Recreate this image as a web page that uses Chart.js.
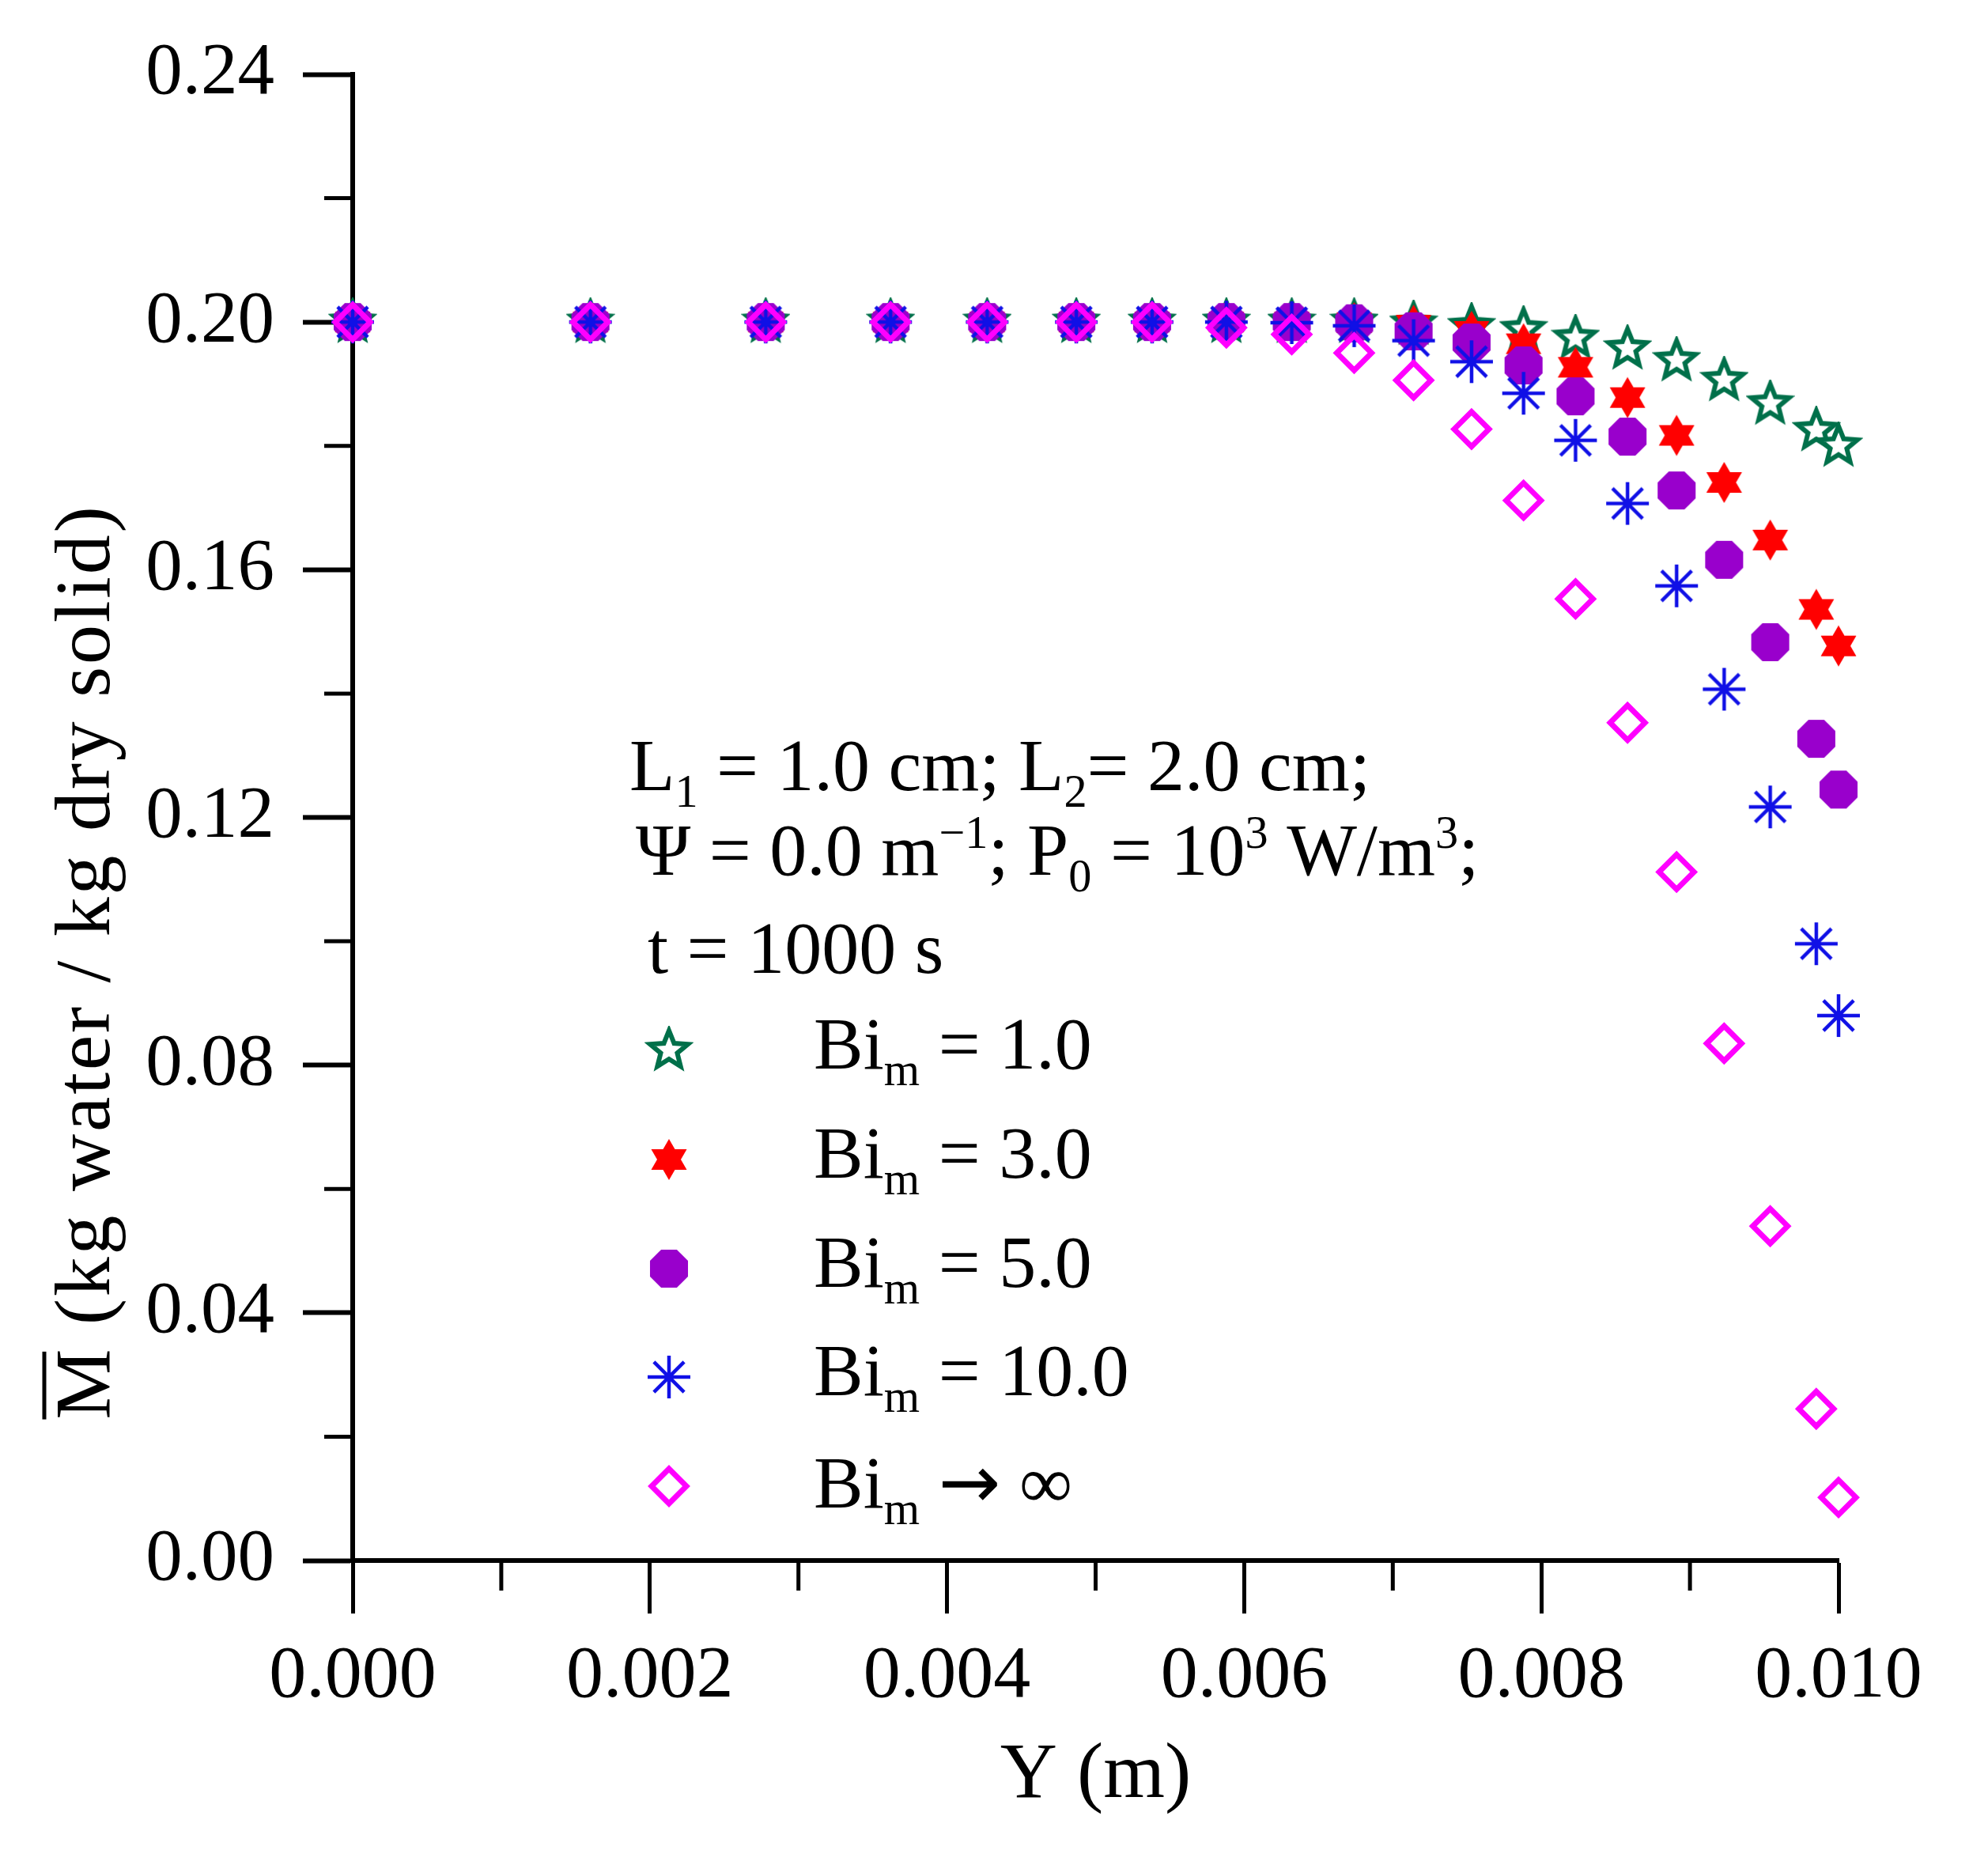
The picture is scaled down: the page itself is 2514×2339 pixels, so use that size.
<!DOCTYPE html>
<html>
<head>
<meta charset="utf-8">
<script src="https://cdn.jsdelivr.net/npm/chart.js@4.4.1/dist/chart.umd.min.js"></script>
<style>
  html, body { margin: 0; padding: 0; background: #fff; }
  #wrap { width: 2514px; height: 2339px; }
</style>
</head>
<body>
<div id="wrap"><canvas id="chart" width="2514" height="2339"></canvas></div>
<script>
// --- data ---
const positions = [0, 0.0016, 0.00278, 0.00362, 0.00427, 0.00487, 0.00538, 0.00588, 0.00632, 0.00674,
                   0.00714, 0.00753, 0.00788, 0.00823, 0.00858, 0.00891, 0.00923, 0.00954, 0.00985, 0.0100];

const bi1   = [0.2, 0.2, 0.2, 0.2, 0.2, 0.2, 0.2, 0.2, 0.2, 0.2,
               0.1997, 0.1993, 0.1988, 0.1974, 0.1957, 0.1938, 0.1906, 0.1868, 0.1825, 0.18];
const bi3   = [0.2, 0.2, 0.2, 0.2, 0.2, 0.2, 0.2, 0.2, 0.2, 0.1999,
               0.1995, 0.1985, 0.1965, 0.1927, 0.1878, 0.1817, 0.1741, 0.1648, 0.1536, 0.1477];
const bi5   = [0.2, 0.2, 0.2, 0.2, 0.2, 0.2, 0.2, 0.2, 0.2, 0.1998,
               0.1985, 0.1967, 0.193, 0.188, 0.1815, 0.1728, 0.1616, 0.1483, 0.1327, 0.1245];
const bi10  = [0.2, 0.2, 0.2, 0.2, 0.2, 0.2, 0.2, 0.2, 0.1999, 0.1994,
               0.197, 0.1936, 0.1885, 0.1809, 0.1707, 0.1574, 0.1407, 0.1217, 0.0996, 0.088];
const biInf = [0.2, 0.2, 0.2, 0.2, 0.2, 0.2, 0.2, 0.1991, 0.198, 0.195,
               0.1906, 0.1827, 0.1712, 0.1553, 0.1353, 0.1112, 0.0835, 0.054, 0.0245, 0.0102];

const xTickValues = [0, 0.002, 0.004, 0.006, 0.008, 0.010];
const xTickLabels = ['0.000', '0.002', '0.004', '0.006', '0.008', '0.010'];
const xMinorValues = [0.001, 0.003, 0.005, 0.007, 0.009];
const yTickValues = [0, 0.04, 0.08, 0.12, 0.16, 0.20, 0.24];
const yTickLabels = ['0.00', '0.04', '0.08', '0.12', '0.16', '0.20', '0.24'];
const yMinorValues = [0.02, 0.06, 0.10, 0.14, 0.18, 0.22];

const legendTexts = [' = 1.0', ' = 3.0', ' = 5.0', ' = 10.0', null];

const FONT = '"Liberation Serif", "Times New Roman", serif';
const GREEN = '#00704a', RED = '#ff0000', PURPLE = '#9900cc', BLUE = '#1010e6', MAGENTA = '#ff00ff';

// --- marker images ---
function makeMarker(size, draw) {
  const c = document.createElement('canvas');
  c.width = size; c.height = size;
  const g = c.getContext('2d');
  g.translate(size / 2, size / 2);
  draw(g);
  return c;
}

const starMarker = makeMarker(62, g => {
  g.beginPath();
  for (let k = 0; k < 10; k++) {
    const r = k % 2 ? 11 : 25;
    const a = -Math.PI / 2 + k * Math.PI / 5;
    g.lineTo(r * Math.cos(a), r * Math.sin(a));
  }
  g.closePath();
  g.fillStyle = '#fff'; g.fill();
  g.lineWidth = 6; g.strokeStyle = GREEN; g.stroke();
});

const hexMarker = makeMarker(58, g => {
  g.fillStyle = RED;
  for (const off of [-Math.PI / 2, Math.PI / 2]) {
    g.beginPath();
    for (let k = 0; k < 3; k++) {
      const a = off + k * 2 * Math.PI / 3;
      g.lineTo(26 * Math.cos(a), 26 * Math.sin(a));
    }
    g.closePath();
    g.fill();
  }
});

const octMarker = makeMarker(56, g => {
  g.beginPath();
  for (let k = 0; k < 8; k++) {
    const a = Math.PI / 8 + k * Math.PI / 4;
    g.lineTo(26 * Math.cos(a), 26 * Math.sin(a));
  }
  g.closePath();
  g.fillStyle = PURPLE; g.fill();
});

const asteriskMarker = makeMarker(62, g => {
  g.strokeStyle = BLUE; g.lineWidth = 4.5;
  for (let k = 0; k < 4; k++) {
    const a = k * Math.PI / 4;
    g.beginPath();
    g.moveTo(-27 * Math.cos(a), -27 * Math.sin(a));
    g.lineTo(27 * Math.cos(a), 27 * Math.sin(a));
    g.stroke();
  }
  g.beginPath(); g.arc(0, 0, 6, 0, Math.PI * 2); g.fillStyle = BLUE; g.fill();
});

function pts(arr) { return positions.map((x, i) => ({ x: x, y: arr[i] })); }

const series = [
  { data: bi1, style: starMarker, order: 4 },
  { data: bi3, style: hexMarker, order: 3 },
  { data: bi5, style: octMarker, order: 2 },
  { data: bi10, style: asteriskMarker, order: 1 },
  { data: biInf, style: 'rectRot', order: 0 }
];

const datasets = series.map(s => ({
  data: pts(s.data),
  pointStyle: s.style,
  pointRadius: 22,
  pointBorderWidth: 7,
  pointBorderColor: MAGENTA,
  pointBackgroundColor: 'rgba(255,255,255,0)',
  showLine: false,
  clip: false,
  order: s.order
}));

// --- text helper with sub/superscripts ---
function richText(ctx, parts, x, y, size) {
  let cx = x;
  for (const [txt, mode] of parts) {
    const s = (mode === 'sub' || mode === 'sup') ? size * 0.62 : size;
    const dy = mode === 'sub' ? size * 0.22 : (mode === 'sup' ? -size * 0.36 : 0);
    ctx.font = s + 'px ' + (mode === 'sym' ? '"DejaVu Sans"' : FONT);
    ctx.fillText(txt, cx, y + dy);
    cx += ctx.measureText(txt).width;
  }
}

const decor = {
  id: 'decor',
  afterDraw(chart) {
    const ctx = chart.ctx;
    const xs = chart.scales.x, ys = chart.scales.y;
    ctx.save();
    ctx.fillStyle = '#000';
    ctx.strokeStyle = '#000';

    // minor ticks
    ctx.lineWidth = 5;
    yMinorValues.forEach(v => {
      const py = ys.getPixelForValue(v);
      ctx.beginPath(); ctx.moveTo(xs.left, py); ctx.lineTo(xs.left - 36, py); ctx.stroke();
    });
    xMinorValues.forEach(v => {
      const px = xs.getPixelForValue(v);
      ctx.beginPath(); ctx.moveTo(px, ys.bottom); ctx.lineTo(px, ys.bottom + 38); ctx.stroke();
    });

    // annotation
    ctx.textAlign = 'left';
    ctx.textBaseline = 'alphabetic';
    const fs = 94;
    richText(ctx, [['L'], ['1', 'sub'], [' = 1.0 cm; L'], ['2', 'sub'], ['= 2.0 cm;']], 796, 999, fs);
    richText(ctx, [['\u03A8 = 0.0 m'], ['\u22121', 'sup'], ['; P'], ['0', 'sub'], [' = 10'], ['3', 'sup'],
                   [' W/m'], ['3', 'sup'], [';']], 804, 1106, fs);
    richText(ctx, [['t = 1000 s']], 819, 1230, fs);

    // legend
    const markerY = [1328, 1466, 1604, 1741, 1879];
    const baseY = [1351, 1489, 1627, 1764, 1906];
    series.forEach((s, i) => {
      const mx = 846, my = markerY[i];
      if (s.style === 'rectRot') {
        ctx.beginPath();
        ctx.moveTo(mx, my - 22); ctx.lineTo(mx + 22, my); ctx.lineTo(mx, my + 22); ctx.lineTo(mx - 22, my);
        ctx.closePath();
        ctx.lineWidth = 7; ctx.strokeStyle = MAGENTA; ctx.stroke();
        ctx.strokeStyle = '#000';
      } else {
        ctx.drawImage(s.style, mx - s.style.width / 2, my - s.style.height / 2);
      }
      ctx.fillStyle = '#000';
      if (legendTexts[i] !== null) {
        richText(ctx, [['Bi'], ['m', 'sub'], [legendTexts[i]]], 1029, baseY[i], fs);
      } else {
        richText(ctx, [['Bi'], ['m', 'sub'], [' '], ['\u2192', 'sym'], [' \u221E']], 1029, baseY[i], fs);
      }
    });

    // x axis title
    ctx.fillStyle = '#000';
    ctx.font = '100px ' + FONT;
    ctx.textAlign = 'center';
    ctx.fillText('Y (m)', (xs.left + xs.right) / 2, 2272);

    // y axis title with overbar on M
    const title = 'M (kg water / kg dry solid)';
    ctx.translate(138, 1216);
    ctx.rotate(-Math.PI / 2);
    ctx.font = '100px ' + FONT;
    const w0 = ctx.measureText(title).width;
    if ('letterSpacing' in ctx) ctx.letterSpacing = ((1157 - w0) / title.length).toFixed(2) + 'px';
    const w = ctx.measureText(title).width;
    ctx.textAlign = 'left';
    ctx.fillText(title, -w / 2, 0);
    const mW = ctx.measureText('M').width;
    ctx.strokeStyle = '#000';
    ctx.lineWidth = 5;
    ctx.beginPath(); ctx.moveTo(-w / 2, -82); ctx.lineTo(-w / 2 + mW - 6, -82); ctx.stroke();
    ctx.restore();
  }
};

new Chart(document.getElementById('chart'), {
  type: 'scatter',
  data: { datasets: datasets },
  options: {
    responsive: false,
    devicePixelRatio: 1,
    animation: false,
    events: [],
    layout: { padding: { top: 94, right: 189, left: 0, bottom: 0 } },
    plugins: { legend: { display: false }, tooltip: { enabled: false } },
    scales: {
      x: {
        type: 'linear', min: 0, max: 0.010,
        afterBuildTicks: s => { s.ticks = xTickValues.map(v => ({ value: v })); },
        afterFit: s => { s.height = 366; },
        ticks: {
          callback: (v, i) => xTickLabels[i],
          font: { family: FONT, size: 94 }, color: '#000', padding: 24, maxRotation: 0, autoSkip: false
        },
        grid: { drawOnChartArea: false, tickLength: 67, tickWidth: 5, tickColor: '#000' },
        border: { display: true, color: '#000', width: 6 }
      },
      y: {
        type: 'linear', min: 0, max: 0.24,
        afterBuildTicks: s => { s.ticks = yTickValues.map(v => ({ value: v })); },
        afterFit: s => { s.width = 446; },
        ticks: {
          callback: (v, i) => yTickLabels[i],
          font: { family: FONT, size: 93 }, color: '#000', padding: 36, autoSkip: false
        },
        grid: { drawOnChartArea: false, tickLength: 63, tickWidth: 6, tickColor: '#000' },
        border: { display: true, color: '#000', width: 6 }
      }
    }
  },
  plugins: [decor]
});
</script>
</body>
</html>
